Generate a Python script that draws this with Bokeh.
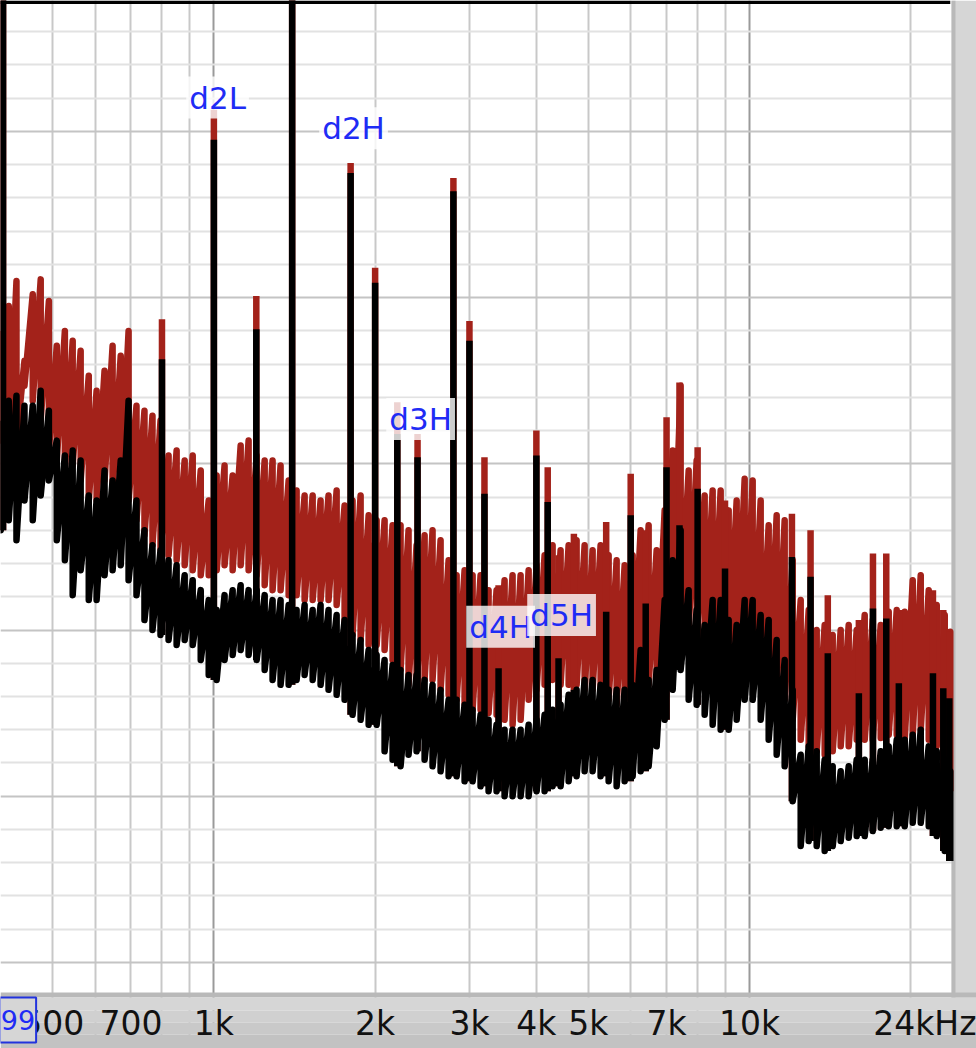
from bokeh.plotting import figure
from bokeh.models import Range1d, FixedTicker, Label, BoxAnnotation
from bokeh.embed import file_html
from bokeh.resources import INLINE

# ---------------- data ----------------
freq = [400, 414, 428, 443, 459, 475, 492, 509, 527, 545,
        564, 584, 604, 625, 647, 670, 693, 717, 742, 768, 795, 823, 852, 882,
        913, 945, 978, 1012, 1047, 1084, 1122, 1161, 1202, 1244, 1287, 1332, 1379, 1427, 1477, 1529,
        1582, 1637, 1695, 1754, 1815, 1879, 1945, 2013, 2083, 2156, 2231, 2309, 2390, 2474,
        2560, 2650, 2743, 2839, 2938, 3041, 3147, 3257, 3371, 3489, 3611, 3738, 3869, 4004,
        4144, 4289, 4439, 4595, 4755, 4922, 5094, 5272, 5457, 5648, 5846, 6050, 6262, 6481, 6708, 6943, 7186,
        7437, 7698, 7967, 8246, 8534, 8833, 9142, 9462, 9793, 10136, 10491, 10858, 11238, 11631, 12038,
        12460, 12896, 13347, 13814, 14298, 14798, 15316, 15852, 16407, 16981, 17576, 18191, 18828,
        19487, 20169, 20875, 21605, 22361, 23144, 23700]

red_hi = [-32.0, -30.5, -29.0, -33.8, -29.8, -28.9, -30.2, -32.9, -32.0, -32.6,
          -33.2, -34.7, -35.6, -34.4, -32.9, -33.5, -32.0, -36.5, -36.8, -37.1,
          -37.4, -39.5, -39.2, -39.8, -39.5, -40.4, -42.2, -40.7, -40.1, -40.7,
          -38.9, -38.6, -39.5, -39.8, -39.8, -40.1, -41.0, -41.6, -41.9, -41.9,
          -42.2, -41.9, -41.6, -42.5, -42.2, -41.9, -43.1, -43.4, -43.4, -43.7,
          -43.7, -44.0, -44.9, -44.3, -44.0, -44.6, -45.8, -46.7, -46.4, -46.7,
          -46.7, -47.6, -47.6, -47.0, -46.7, -46.7, -46.4, -46.1, -45.5, -44.9,
          -45.2, -44.9, -44.6, -44.9, -45.2, -44.9, -45.5, -45.8, -46.1, -45.5,
          -44.0, -43.7, -45.2, -42.8, -39.2, -35.3, -40.4, -39.8, -41.9, -41.6,
          -41.6, -42.8, -42.2, -40.9, -41.0, -42.2, -43.7, -43.1, -43.4, -45.8,
          -48.2, -48.8, -50.0, -49.7, -50.3, -50.0, -49.7, -50.0, -49.1, -49.4,
          -49.7, -48.9, -48.8, -48.9, -47.0, -46.7, -47.6, -48.5, -49.1, -50.1]

red_lo = [-38.6, -39.5, -38.6, -35.3, -36.2, -37.4, -39.2, -39.8, -40.4, -40.1,
          -41.0, -42.2, -42.2, -41.0, -41.6, -41.9, -42.2, -43.4, -44.3, -44.9,
          -45.2, -45.5, -45.8, -46.1, -46.4, -46.7, -46.7, -46.4, -46.1, -46.4,
          -46.1, -46.4, -46.7, -47.3, -47.6, -47.6, -47.9, -47.9, -48.2, -48.2,
          -48.2, -48.2, -48.5, -49.7, -50.3, -50.6, -50.9, -50.9, -51.2, -51.8,
          -52.4, -53.3, -53.6, -53.0, -53.0, -53.6, -53.9, -54.2, -54.5, -54.8,
          -54.8, -55.0, -55.1, -55.4, -55.7, -55.4, -54.2, -53.6, -53.3, -53.0,
          -53.3, -53.3, -53.3, -53.6, -53.6, -53.9, -54.2, -54.5, -54.2, -53.9,
          -53.6, -53.3, -53.0, -51.2, -49.4, -49.4, -50.0, -50.6, -51.2, -51.5,
          -51.8, -51.8, -52.1, -52.4, -52.4, -52.7, -53.0, -53.6, -54.2, -55.4,
          -56.6, -57.0, -57.3, -57.5, -57.3, -57.0, -57.0, -56.6, -56.6, -56.6,
          -56.5, -56.3, -56.3, -56.6, -56.3, -56.0, -56.6, -57.0, -57.8, -59.7]

black_hi = [-37.4, -36.2, -35.9, -36.5, -36.5, -35.6, -36.8, -38.6, -39.5, -39.2,
            -39.8, -41.9, -42.2, -40.4, -41.0, -39.8, -36.2, -42.2, -44.0, -44.9,
            -45.2, -45.8, -46.1, -46.7, -47.0, -47.6, -48.2, -48.8, -47.9, -47.6,
            -47.3, -47.6, -47.6, -47.9, -48.2, -48.2, -48.5, -48.8, -48.5, -48.8,
            -48.5, -48.8, -49.1, -49.4, -50.3, -50.6, -51.2, -51.5, -51.8, -52.1,
            -52.4, -52.7, -52.7, -53.0, -53.3, -53.6, -54.2, -54.2, -54.5, -54.8,
            -55.1, -55.4, -55.7, -56.0, -56.0, -56.0, -55.7, -55.4, -55.1, -54.8,
            -54.5, -53.9, -53.6, -53.0, -53.0, -53.3, -53.6, -53.6, -53.6, -53.3,
            -51.2, -53.0, -52.4, -48.2, -45.8, -44.0, -47.6, -48.8, -49.7, -48.2,
            -48.2, -49.4, -49.7, -48.2, -48.2, -49.1, -49.4, -50.6, -51.8, -53.6,
            -57.5, -57.0, -57.3, -57.8, -58.2, -58.5, -58.2, -57.8, -57.8, -57.8,
            -57.3, -57.0, -56.6, -56.6, -56.3, -56.0, -57.0, -57.3, -57.8, -58.5]

black_lo = [-44.0, -43.4, -44.6, -42.2, -43.4, -41.9, -41.0, -44.6, -45.8, -47.9,
            -46.4, -48.2, -48.2, -46.7, -46.4, -46.1, -47.0, -47.9, -49.4, -50.0,
            -50.3, -50.6, -50.9, -50.6, -50.9, -51.8, -52.7, -53.0, -51.8, -51.5,
            -51.2, -51.5, -51.8, -52.4, -53.0, -53.3, -53.3, -53.0, -52.7, -53.0,
            -53.3, -53.6, -53.9, -54.2, -55.1, -55.4, -55.7, -55.7, -57.3, -57.8,
            -58.2, -57.5, -57.3, -57.8, -58.2, -58.5, -58.8, -58.8, -59.1, -59.1,
            -59.4, -59.7, -59.7, -60.0, -60.0, -60.0, -60.0, -59.7, -59.7, -59.4,
            -59.4, -59.1, -58.8, -58.5, -58.5, -58.8, -59.1, -59.4, -59.1, -58.8,
            -58.5, -58.2, -57.0, -55.4, -53.6, -52.4, -54.2, -54.5, -55.1, -55.7,
            -56.0, -56.0, -55.4, -54.2, -54.2, -55.4, -56.6, -57.5, -58.2, -60.3,
            -63.0, -62.7, -63.0, -63.3, -63.0, -62.7, -62.5, -62.4, -62.4, -62.1,
            -61.9, -61.8, -61.8, -61.8, -61.6, -61.6, -61.8, -62.4, -63.3, -63.9]

spike_f = [404, 800, 1000, 1200, 1400, 1800, 2000, 2200, 2400, 2800,
           3000, 3200, 3400, 4000, 4200, 4400, 4700, 5400, 6000, 6400,
           7000, 7400, 8000, 9000, 12000, 13000, 14000, 16000, 17000, 18000,
           19000, 22000, 23000, 23600]
red_peak = [0.0, -31.3, -18.7, -29.9, 0.0, -21.9, -28.2, -36.3, -38.2, -22.8,
            -31.4, -39.6, -47.3, -38.0, -40.2, -45.5, -44.2, -43.5, -40.6, -44.0,
            -37.2, -35.1, -39.0, -42.2, -43.0, -44.0, -47.9, -49.4, -45.4, -45.4,
            -48.8, -47.6, -48.8, -50.1]
black_peak = [0.0, -33.7, -20.5, -31.9, 0.0, -22.5, -29.1, -38.2, -39.6, -23.6,
              -32.6, -41.8, -52.3, -39.5, -42.3, -51.7, -53.6, -48.9, -43.1, -48.4,
              -40.2, -43.7, -41.5, -46.3, -45.6, -46.8, -51.4, -53.8, -48.7, -49.3,
              -53.2, -52.6, -53.5, -54.1]
spike_floor = [-44.0, -50.3, -53.0, -51.8, -53.3, -55.1, -55.7, -58.2, -57.3, -58.8,
               -59.1, -59.4, -59.7, -59.7, -59.7, -59.4, -58.8, -58.8, -59.1, -58.5,
               -55.4, -52.4, -54.5, -56.0, -60.3, -62.7, -63.3, -62.4, -62.1, -61.9,
               -61.8, -62.4, -63.3, -63.9]

label_text = ["d2L", "d2H", "d3H", "d4H", "d5H"]
label_freq = [1016, 1823, 2432, 3430, 4458]
label_db = [-17.96, -19.8, -37.3, -49.8, -49.1]

tick_vals = [500, 700, 1000, 2000, 3000, 4000, 5000, 7000, 10000, 24000]
tick_text = ["500", "700", "1k", "2k", "3k", "4k", "5k", "7k", "10k", "24kHz"]

grid_x_major = [1000, 10000]
grid_x_minor = [500, 600, 700, 800, 900, 2000, 3000, 4000, 5000, 6000, 7000, 8000, 9000, 20000]
grid_y_major = [-70, -60, -50, -40, -30, -20]
grid_y_minor = [-72, -68, -66, -64, -62, -58, -56, -54, -52, -48, -46, -44, -42,
                -38, -36, -34, -32, -28, -26, -24, -22, -18, -16, -14]

cursor_text = "99"
cursor_freq = 465.7
cursor_db = -73.46

RED = "#a3221a"
BLUE = "#1f2cf5"
FONT = "DejaVu Sans"

# window furniture (frame edges, in Hz / dB of the plot)
F_EDGE, F_SHADOW, F_TOPBAR = 23830, 24240, 23700
DB_EDGE, DB_SHADOW, DB_TOPBAR = -71.81, -72.11, -12.33
STRIP_BANDS = [(-72.11, -72.89, "#d6d6d6"), (-72.89, -73.61, "#d0d0d0"),
               (-73.61, -74.34, "#c9c9c9"), (-74.34, None, "#c2c2c2")]


def zigzag(fs, hi, lo):
    xs, ys = [], []
    for f, h, l in zip(fs, hi, lo):
        xs += [f, f]
        ys += [h, l]
    return xs, ys


# ---------------- figure ----------------
p = figure(width=976, height=1048, x_axis_type="log",
           x_range=Range1d(399.6, 26530), y_range=Range1d(-75.18, -12.12),
           output_backend="svg", toolbar_location=None,
           min_border_left=0, min_border_right=0, min_border_top=0, min_border_bottom=0)
p.background_fill_color = "white"
p.border_fill_color = "#c2c2c2"
p.outline_line_color = None
p.yaxis.visible = False

p.xgrid.ticker = FixedTicker(ticks=grid_x_major, minor_ticks=grid_x_minor)
p.xgrid.grid_line_color = "#9a9a9a"
p.xgrid.grid_line_width = 2
p.xgrid.minor_grid_line_color = "#c8c8c8"
p.xgrid.minor_grid_line_width = 2
p.ygrid.ticker = FixedTicker(ticks=grid_y_major, minor_ticks=grid_y_minor)
p.ygrid.grid_line_color = "#c4c4c4"
p.ygrid.grid_line_width = 2
p.ygrid.minor_grid_line_color = "#e2e2e2"
p.ygrid.minor_grid_line_width = 2

# grey window strips (drawn under the traces, over the grid)
p.add_layout(BoxAnnotation(left=F_EDGE, fill_color="#d6d6d6", fill_alpha=1.0,
                           line_color=None, level="underlay"))
p.add_layout(BoxAnnotation(left=F_EDGE, right=F_SHADOW, fill_color="#b9b9b9", fill_alpha=1.0,
                           line_color=None, level="underlay"))
p.add_layout(BoxAnnotation(top=DB_EDGE, bottom=DB_SHADOW, fill_color="#b9b9b9", fill_alpha=1.0,
                           line_color=None, level="underlay"))
for top, bottom, col in STRIP_BANDS:
    kw = dict(top=top, fill_color=col, fill_alpha=1.0, line_color=None, level="underlay")
    if bottom is not None:
        kw["bottom"] = bottom
    p.add_layout(BoxAnnotation(**kw))

ax = p.xaxis[0]
ax.ticker = FixedTicker(ticks=tick_vals)
ax.major_label_overrides = {v: t for v, t in zip(tick_vals, tick_text)}
ax.axis_line_color = None
ax.major_tick_line_color = None
ax.minor_tick_line_color = None
ax.major_tick_out = 0
ax.major_tick_in = 0
ax.major_label_standoff = -45
ax.major_label_text_font = FONT
ax.major_label_text_font_size = "33px"
ax.major_label_text_color = "#111111"

# traces
rx, ry = zigzag(freq, red_hi, red_lo)
p.line(rx, ry, line_color=RED, line_width=6.5, line_join="round")
p.segment(x0=spike_f, y0=red_peak, x1=spike_f, y1=spike_floor, line_color=RED, line_width=6.5)
bx, by = zigzag(freq, black_hi, black_lo)
p.line(bx, by, line_color="black", line_width=6.5, line_join="round")
p.segment(x0=spike_f, y0=black_peak, x1=spike_f, y1=spike_floor, line_color="black", line_width=6.5)

# black top edge of the graph frame
p.add_layout(BoxAnnotation(bottom=DB_TOPBAR, right=F_TOPBAR, fill_color="black", fill_alpha=1.0,
                           line_color=None))

for txt, fx, fy in zip(label_text, label_freq, label_db):
    p.add_layout(Label(x=fx, y=fy, text=txt, text_align="center", text_baseline="middle",
                       text_font=FONT, text_font_size="31px", text_color=BLUE,
                       background_fill_color="white", background_fill_alpha=0.8, padding=3))

p.add_layout(Label(x=cursor_freq, y=cursor_db, text=cursor_text, text_align="right",
                   text_baseline="middle", text_font=FONT, text_font_size="27px",
                   text_color=BLUE, background_fill_color="#d6d6d6", background_fill_alpha=1.0,
                   border_line_color="#2233dd", border_line_width=2,
                   padding=dict(left=1, right=1, top=13, bottom=12)))

open("out.html", "w").write(file_html(p, INLINE))
